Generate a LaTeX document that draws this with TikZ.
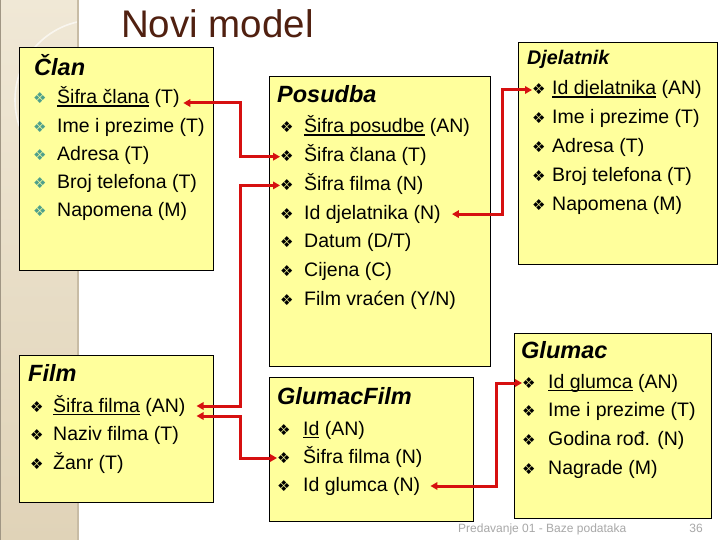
\documentclass[tikz,border=0pt]{standalone}
\usepackage{fontspec}
\setmainfont{Liberation Sans}
\newfontfamily\djv{DejaVu Sans}
\usetikzlibrary{arrows.meta}
\definecolor{boxfill}{RGB}{255,255,156}
\definecolor{arrowred}{RGB}{214,16,16}
\definecolor{titlebrown}{RGB}{80,32,16}
\definecolor{bulteal}{RGB}{78,160,140}
\definecolor{stripA}{RGB}{240,232,214}
\definecolor{stripB}{RGB}{224,211,184}
\definecolor{stripedge}{RGB}{200,188,165}
\definecolor{footgray}{RGB}{168,168,168}
\newcommand\myul[1]{\setbox0\hbox{#1}\rlap{\rule[-2.6pt]{\wd0}{1.1pt}}\box0\relax}
\newcommand\mybul[2]{\makebox[#1][l]{\color{#2}\djv\fontsize{15}{15}\selectfont ❖}}
\begin{document}
\begin{tikzpicture}[x=1pt,y=-1pt,
  box/.style={draw=black, line width=1pt, fill=boxfill, anchor=north west, inner sep=0pt, outer sep=0pt},
  hdr/.style={anchor=base west, inner sep=0pt, font=\fontsize{23.5}{27}\selectfont\bfseries\itshape},
  item/.style={anchor=base west, inner sep=0pt, text height=14pt, text depth=4pt, font=\fontsize{19.5}{23}\selectfont},
  link/.style={draw=arrowred, line width=3pt, {Triangle[length=7pt,width=7.5pt]}-{Triangle[length=7pt,width=7.5pt]}}]
\useasboundingbox (0,0) rectangle (720,540);
\fill[white] (0,0) rectangle (720,540);
% left strip
\shade[top color=stripA, bottom color=stripB] (0,0) rectangle (78,540);
\begin{scope}
\clip (0,0) rectangle (78,540);
\draw[white, opacity=0.65, line width=1.6pt] (95,100) circle[radius=80];
\end{scope}
\draw[stripedge, line width=1.5pt] (78,0) -- (78,540);
\draw[stripedge!80!black, line width=1pt] (0.5,0) -- (0.5,540);
% title and footer
\node[anchor=base west, inner sep=0pt, text=titlebrown, font=\fontsize{38.5}{44}\selectfont] (title) at (121,38) {Novi model};
\node[anchor=base west, inner sep=0pt, text=footgray, font=\fontsize{12}{14}\selectfont] (foot) at (458,532) {Predavanje 01 - Baze podataka};
\node[anchor=base east, inner sep=0pt, text=footgray, font=\fontsize{12}{14}\selectfont] (page) at (703,532) {36};
% boxes
\node[box, minimum width=194pt, minimum height=222pt] (clan) at (19,48) {};
\node[box, minimum width=221pt, minimum height=289pt] (posudba) at (269,77) {};
\node[box, minimum width=199pt, minimum height=221pt] (djel) at (518,43) {};
\node[box, minimum width=194pt, minimum height=147pt] (film) at (19,355) {};
\node[box, minimum width=204pt, minimum height=144pt] (gf) at (269,377) {};
\node[box, minimum width=197pt, minimum height=185pt] (glumac) at (514,333) {};
% Clan
\node[hdr] (hclan) at (34,76) {Član};
\node[item] (c1) at (33,104) {\mybul{24pt}{bulteal}\myul{Šifra člana} (T)};
\node[item] (c2) at (33,132.25) {\mybul{24pt}{bulteal}Ime i prezime (T)};
\node[item] (c3) at (33,160.5) {\mybul{24pt}{bulteal}Adresa (T)};
\node[item] (c4) at (33,188.75) {\mybul{24pt}{bulteal}Broj telefona (T)};
\node[item] (c5) at (33,217) {\mybul{24pt}{bulteal}Napomena (M)};
% Posudba
\node[hdr] (hpos) at (277,103) {Posudba};
\node[item] (p1) at (280,133) {\mybul{24pt}{black}\myul{Šifra posudbe} (AN)};
\node[item] (p2) at (280,161.7) {\mybul{24pt}{black}Šifra člana (T)};
\node[item] (p3) at (280,190.4) {\mybul{24pt}{black}Šifra filma (N)};
\node[item] (p4) at (280,219.1) {\mybul{24pt}{black}Id djelatnika (N)};
\node[item] (p5) at (280,247.8) {\mybul{24pt}{black}Datum (D/T)};
\node[item] (p6) at (280,276.5) {\mybul{24pt}{black}Cijena (C)};
\node[item] (p7) at (280,305.2) {\mybul{24pt}{black}Film vraćen (Y/N)};
% Djelatnik
\node[hdr, font=\fontsize{19.7}{23}\selectfont\bfseries\itshape] (hdj) at (527,65) {Djelatnik};
\node[item] (d1) at (532,95) {\mybul{20pt}{black}\myul{Id djelatnika} (AN)};
\node[item] (d2) at (532,123.8) {\mybul{20pt}{black}Ime i prezime (T)};
\node[item] (d3) at (532,152.6) {\mybul{20pt}{black}Adresa (T)};
\node[item] (d4) at (532,181.4) {\mybul{20pt}{black}Broj telefona (T)};
\node[item] (d5) at (532,210.2) {\mybul{20pt}{black}Napomena (M)};
% Film
\node[hdr] (hfilm) at (28,381) {Film};
\node[item] (f1) at (30,412) {\mybul{23pt}{black}\myul{Šifra filma} (AN)};
\node[item] (f2) at (30,440.5) {\mybul{23pt}{black}Naziv filma (T)};
\node[item] (f3) at (30,469) {\mybul{23pt}{black}Žanr (T)};
% GlumacFilm
\node[hdr] (hgf) at (277,404) {GlumacFilm};
\node[item] (g1) at (277,435) {\mybul{26pt}{black}\myul{Id} (AN)};
\node[item] (g2) at (277,463) {\mybul{26pt}{black}Šifra filma (N)};
\node[item] (g3) at (277,491) {\mybul{26pt}{black}Id glumca (N)};
% Glumac
\node[hdr] (hgl) at (521,358) {Glumac};
\node[item] (gl1) at (522,388) {\mybul{26pt}{black}\myul{Id glumca} (AN)};
\node[item] (gl2) at (522,416.7) {\mybul{26pt}{black}Ime i prezime (T)};
\node[item] (gl3) at (522,445.4) {\mybul{26pt}{black}Godina rođ. (N)};
\node[item] (gl4) at (522,474.1) {\mybul{26pt}{black}Nagrade (M)};
% connectors
\coordinate (colA) at (240,0);
\coordinate (colB) at (502,0);
\coordinate (colC) at (496,0);
\coordinate (a1s) at ([xshift=3.5pt,yshift=-4pt]c1.east);
\coordinate (a2e) at ([xshift=11pt,yshift=1pt]f1.east);
\coordinate (a3s) at ([xshift=11pt,yshift=-9pt]f1.east);
\coordinate (a4s) at ([xshift=11pt]p4.east);
\coordinate (a5s) at ([xshift=10pt]g3.east);
\draw[link] (a1s) -- (a1s -| colA) -- (p2.west -| colA) -- (p2.west);
\draw[link] (p3.west) -- (p3.west -| colA) -- (a2e -| colA) -- (a2e);
\draw[link] (a3s) -- (a3s -| colA) -- (g2.west -| colA) -- (g2.west);
\draw[link] (a4s) -- (a4s -| colB) -- (d1.west -| colB) -- (d1.west);
\draw[link] (a5s) -- (a5s -| colC) -- (gl1.west -| colC) -- (gl1.west);
\end{tikzpicture}
\end{document}
